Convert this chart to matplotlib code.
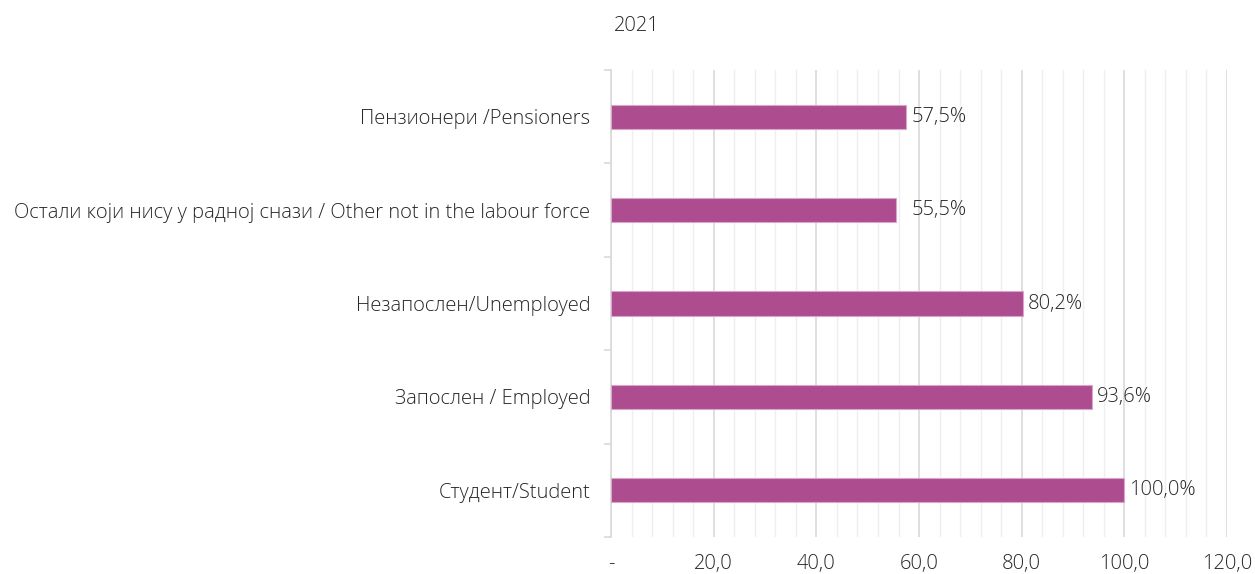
import matplotlib.pyplot as plt
import numpy as np
from matplotlib.ticker import MultipleLocator, FixedLocator

categories = [
    "Пензионери /Pensioners",
    "Остали који нису у радној снази / Other not in the labour force",
    "Незапослен/Unemployed",
    "Запослен / Employed",
    "Студент/Student",
]
values = [57.5, 55.5, 80.2, 93.6, 100.0]
x_ticks = [0, 20, 40, 60, 80, 100, 120]
x_labels = ["-", "20,0", "40,0", "60,0", "80,0", "100,0", "120,0"]

plt.rcParams["font.family"] = ["Open Sans", "DejaVu Sans"]
plt.rcParams["font.weight"] = "light"

fig = plt.figure(figsize=(12.55, 5.74), dpi=100)
ax = fig.add_axes([0.4869, 0.0645, 0.4908, 0.8135])

pos = np.arange(len(categories))
ax.barh(pos, values, height=0.26, color="#ad4c8e", edgecolor="#d9a5c9",
        linewidth=0.8, zorder=3)

# the "other" label sits a bit further from its bar in the original
offsets = [1.0, 3.0, 1.0, 1.0, 1.0]
for p, v, off in zip(pos, values, offsets):
    ax.text(v + off, p, f"{v:.1f}%".replace(".", ","), va="center",
            ha="left", fontsize=14.5, color="#262626")

ax.set_xlim(0, 120)
ax.set_ylim(len(categories) - 0.5, -0.5)
ax.set_xticks(x_ticks)
ax.set_xticklabels(x_labels)
ax.xaxis.set_minor_locator(MultipleLocator(4))
ax.grid(axis="x", which="major", color="#d9d9d9", linewidth=1.2, zorder=0)
ax.grid(axis="x", which="minor", color="#efefef", linewidth=1.0, zorder=0)
ax.tick_params(axis="x", which="both", length=0, labelsize=14.5,
               labelcolor="#262626", pad=12)

ax.set_yticks(pos)
ax.set_yticklabels(categories)
ax.yaxis.set_minor_locator(FixedLocator(np.arange(-0.5, len(categories), 1)))
ax.tick_params(axis="y", which="major", length=0, labelsize=14.5,
               labelcolor="#262626", pad=15)
ax.tick_params(axis="y", which="minor", length=5, color="#d9d9d9", width=1.2)

for side in ["top", "right", "bottom"]:
    ax.spines[side].set_visible(False)
ax.spines["left"].set_color("#d9d9d9")
ax.spines["left"].set_linewidth(1.2)

fig.text(0.489, 0.955, "2021", fontsize=14.5, color="#262626", ha="left",
         va="center")

fig.savefig("out.png", dpi=100)
